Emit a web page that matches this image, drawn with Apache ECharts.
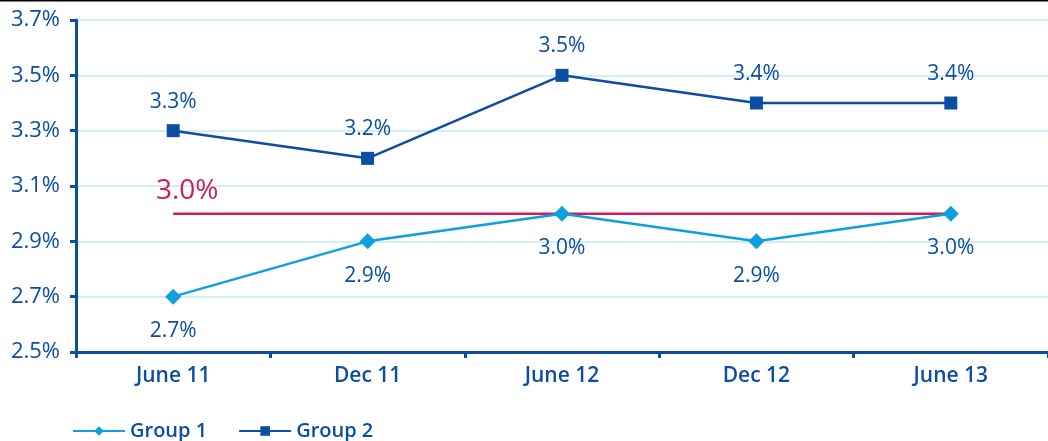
<!DOCTYPE html>
<html><head><meta charset="utf-8">
<script src="https://cdn.jsdelivr.net/npm/echarts@6/dist/echarts.min.js"></script>
<style>html,body{margin:0;padding:0;background:#fff}#c{width:1048px;height:441px}</style>
</head><body><div id="c"></div>
<script>
const categories = ['June 11', 'Dec 11', 'June 12', 'Dec 12', 'June 13'];
const group1 = [2.7, 2.9, 3.0, 2.9, 3.0];
const group2 = [3.3, 3.2, 3.5, 3.4, 3.4];
const target = [3.0, 3.0, 3.0, 3.0, 3.0];
const targetLabel = '3.0%';

const dark = '#0b4ea2', light = '#0e9fe0', red = '#cc1d5c';
const font = 'Open Sans';
const chart = echarts.init(document.getElementById('c'), null, {renderer: 'canvas'});
chart.setOption({
  animation: false,
  textStyle: {fontFamily: font},
  grid: {left: 76, right: -3, top: 20, bottom: 89, containLabel: false},
  graphic: [{type: 'line', shape: {x1: 0, y1: 0.5, x2: 1048, y2: 0.5}, style: {stroke: '#000', lineWidth: 2}}],
  legend: {
    left: 67, bottom: -5, itemWidth: 52, itemHeight: 12, itemGap: 31,
    textStyle: {color: dark, fontSize: 20, fontFamily: font, fontWeight: 600},
    data: ['Group 1', 'Group 2']
  },
  xAxis: {
    type: 'category', data: categories, boundaryGap: true,
    axisLine: {lineStyle: {color: dark, width: 3}},
    axisTick: {show: true, length: 6, lineStyle: {color: dark, width: 3}},
    axisLabel: {color: dark, fontSize: 21, margin: 14, fontFamily: font, fontWeight: 600}
  },
  yAxis: {
    type: 'value', min: 2.5, max: 3.7, interval: 0.2,
    axisLine: {show: true, lineStyle: {color: dark, width: 3}},
    axisTick: {show: true, length: 6, lineStyle: {color: dark, width: 3}},
    axisLabel: {color: dark, fontSize: 22, margin: 16, fontFamily: font,
      formatter: v => v.toFixed(1) + '%'},
    splitLine: {show: true, lineStyle: {color: '#d4eef8', width: 2}}
  },
  series: [
    {name: 'Target', type: 'line', data: target, symbol: 'circle', symbolSize: 0, showSymbol: true, silent: true,
      lineStyle: {color: red, width: 2.5}, itemStyle: {color: red},
      label: {show: true, position: 'top', fontSize: 28, color: red, fontFamily: font, distance: 6, offset: [14, -3],
        formatter: p => p.dataIndex === 0 ? targetLabel : ''},
      z: 1},
    {name: 'Group 1', type: 'line', data: group1, symbol: 'diamond', symbolSize: 16,
      lineStyle: {color: light, width: 2.5}, itemStyle: {color: light},
      label: {show: true, position: 'bottom', distance: 16, fontSize: 21, color: dark, fontFamily: font,
        formatter: p => p.value.toFixed(1) + '%'}, z: 3},
    {name: 'Group 2', type: 'line', data: group2, symbol: 'rect', symbolSize: 13,
      lineStyle: {color: dark, width: 2.5}, itemStyle: {color: dark},
      label: {show: true, position: 'top', distance: 12, fontSize: 21, color: dark, fontFamily: font,
        formatter: p => p.value.toFixed(1) + '%'}, z: 3}
  ]
});
</script></body></html>
